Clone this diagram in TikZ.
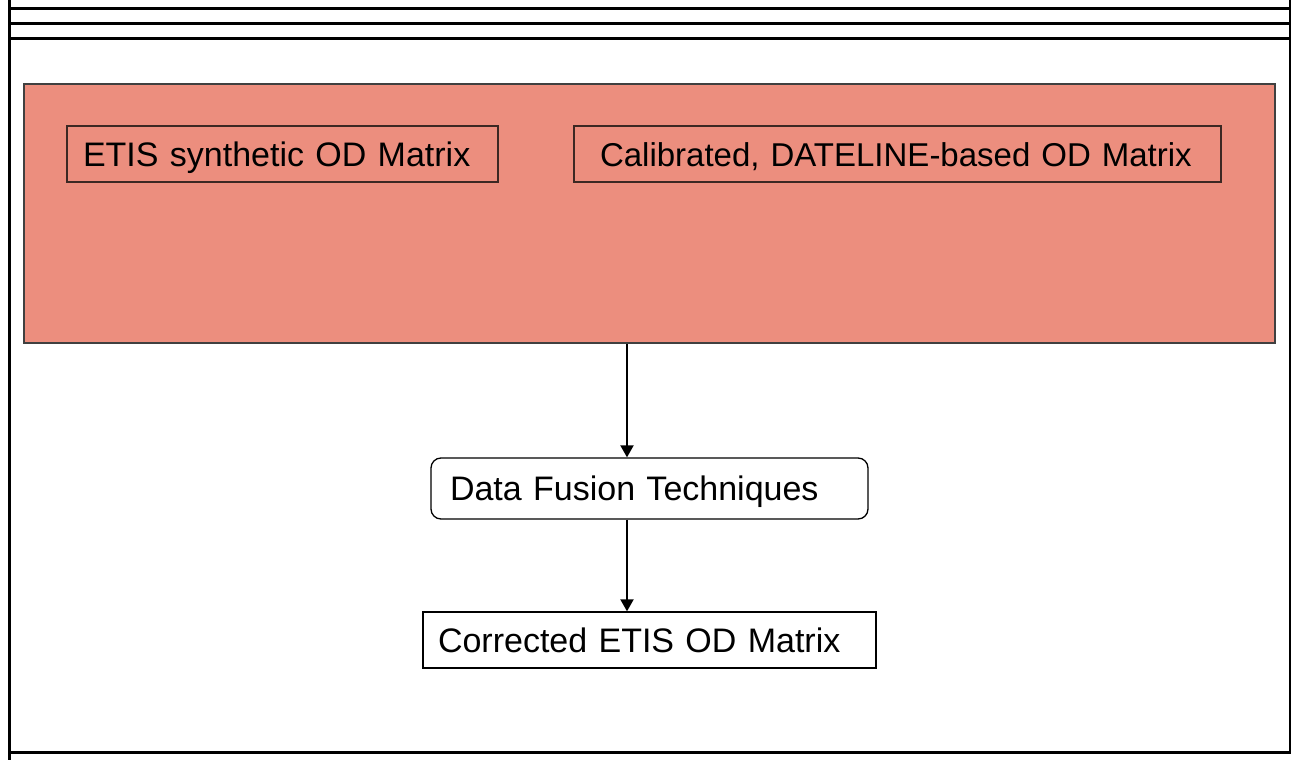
\documentclass[tikz,border=0pt]{standalone}
\usepackage{fontspec}
\setmainfont{Liberation Sans}
\usepackage{tikz}
\usetikzlibrary{arrows.meta}

\definecolor{salmon}{RGB}{236,142,126}
\definecolor{boxline}{RGB}{60,40,35}

\begin{document}
\begin{tikzpicture}[x=1pt,y=-1pt,
  every node/.style={font=\fontsize{34}{40}\selectfont},
  frameline/.style={line width=3pt},
  odbox/.style={draw=boxline, line width=1.3pt, align=left, inner ysep=0pt,
    text height=24pt, text depth=0pt, minimum height=56pt},
  flowarrow/.style={line width=2pt, -{Triangle[length=12pt,width=13pt]}}]

\useasboundingbox (0,0) rectangle (1291,760);

\coordinate (TL) at (9, 0);
\coordinate (BL) at (9, 760);
\coordinate (TR) at (1290, 0);
\coordinate (BR) at (1290, 752.5);
\coordinate (ax) at (627, 0);

% frame
\draw[frameline] (TL) -- (BL);
\draw[frameline] (TR) -- (BR);
\foreach \y in {9, 24, 39}
  \draw[frameline] (9, \y) -- (1290, \y);
\draw[frameline] (9, 752.5) -- (1291, 752.5);

% input matrices
\node[draw=black!75, line width=2pt, fill=salmon, inner sep=0pt,
  minimum width=1251pt, minimum height=259pt] (matrices) at (649.5, 213.5) {};
\node[odbox, text width=399pt, inner xsep=16pt] (etis) at (282.5, 154)
  {ETIS synthetic OD Matrix};
\node[odbox, text width=595pt, inner xsep=26pt, font=\fontsize{33}{40}\selectfont]
  (dateline) at (897.5, 154) {Calibrated, DATELINE-based OD Matrix};

% fusion and result
\node[odbox, draw=black, rounded corners=10pt, text width=399pt, inner xsep=19pt,
  minimum height=61pt] (fusion) at (649.5, 488.5) {Data Fusion Techniques};
\node[odbox, draw=black, text width=423pt, inner xsep=15pt] (corrected) at (649.5, 640)
  {Corrected ETIS OD Matrix};

\draw[flowarrow] (matrices.south -| ax) -- (fusion.north -| ax);
\draw[flowarrow] (fusion.south -| ax) -- (corrected.north -| ax);

\end{tikzpicture}
\end{document}
